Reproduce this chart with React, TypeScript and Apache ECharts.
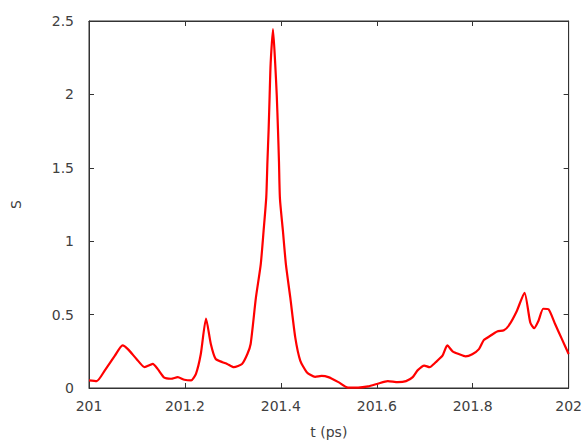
import React, { useEffect, useRef } from "react";
import * as echarts from "echarts";

const tValues: number[] = [
  201.0, 201.016, 201.033, 201.054, 201.07, 201.081, 201.099, 201.116, 201.133, 201.143,
  201.157, 201.171, 201.185, 201.199, 201.213, 201.223, 201.233, 201.244, 201.254, 201.264,
  201.278, 201.288, 201.302, 201.319, 201.33, 201.337, 201.348, 201.358, 201.364, 201.3696,
  201.372, 201.3745, 201.3766, 201.3787, 201.3836, 201.3882, 201.3915, 201.394, 201.3961, 201.3981,
  201.4043, 201.4106, 201.4197, 201.43, 201.4404, 201.454, 201.4714, 201.485, 201.499, 201.52,
  201.54, 201.561, 201.582, 201.602, 201.623, 201.644, 201.661, 201.675, 201.685, 201.699,
  201.71, 201.723, 201.737, 201.747, 201.758, 201.772, 201.785, 201.799, 201.813, 201.823,
  201.837, 201.851, 201.865, 201.875, 201.892, 201.908, 201.92, 201.928, 201.937, 201.947,
  201.958, 201.972, 201.986, 202.0,
];

const sValues: number[] = [
  0.052, 0.047, 0.12, 0.22, 0.29, 0.265, 0.198, 0.142, 0.164, 0.13,
  0.07, 0.063, 0.074, 0.056, 0.052, 0.097, 0.23, 0.473, 0.3, 0.198,
  0.176, 0.164, 0.142, 0.164, 0.23, 0.3, 0.615, 0.84, 1.07, 1.3,
  1.54, 1.76, 1.99, 2.21, 2.444, 2.21, 1.99, 1.76, 1.54, 1.29,
  1.07, 0.84, 0.615, 0.345, 0.187, 0.108, 0.076, 0.082, 0.074, 0.04,
  0.003, 0.003, 0.011, 0.029, 0.047, 0.04, 0.047, 0.074, 0.12, 0.153,
  0.142, 0.176, 0.22, 0.29, 0.25, 0.23, 0.216, 0.23, 0.265, 0.326,
  0.356, 0.385, 0.394, 0.424, 0.525, 0.649, 0.446, 0.407, 0.457, 0.54,
  0.536, 0.434, 0.333, 0.232,
];

const xLabel = "t (ps)";
const yLabel = "S";

export default function App() {
  const ref = useRef<HTMLDivElement>(null);
  useEffect(() => {
    if (!ref.current) return;
    const chart = echarts.init(ref.current, null, { renderer: "svg" });
    const font = "DejaVu Sans";
    const axisLineColor = "#333333";
    const labelColor = "#404040";
    const data = tValues.map((t, i) => [t, sValues[i]]);
    const tickStyle = { show: true, inside: true, length: 5, lineStyle: { color: axisLineColor } };
    chart.setOption({
      animation: false,
      grid: {
        left: 89,
        right: 13,
        top: 21,
        bottom: 53,
        show: true,
        borderColor: axisLineColor,
        borderWidth: 1,
        backgroundColor: "transparent",
      },
      xAxis: [
        {
          type: "value",
          min: 201,
          max: 202,
          interval: 0.2,
          name: xLabel,
          nameLocation: "middle",
          nameGap: 37,
          nameTextStyle: { fontFamily: font, fontSize: 14, color: labelColor },
          axisLine: { show: true, onZero: false, lineStyle: { color: axisLineColor, width: 1 } },
          axisTick: tickStyle,
          axisLabel: {
            fontFamily: font,
            fontSize: 14,
            color: labelColor,
            margin: 11,
            formatter: (v: number) => String(Math.round(v * 10) / 10),
          },
          splitLine: { show: false },
        },
        {
          type: "value",
          position: "top",
          min: 201,
          max: 202,
          interval: 0.2,
          axisLine: { show: true, onZero: false, lineStyle: { color: axisLineColor, width: 1 } },
          axisTick: tickStyle,
          axisLabel: { show: false },
          splitLine: { show: false },
        },
      ],
      yAxis: [
        {
          type: "value",
          min: 0,
          max: 2.5,
          interval: 0.5,
          name: yLabel,
          nameLocation: "middle",
          nameGap: 66,
          nameTextStyle: { fontFamily: font, fontSize: 14, color: labelColor },
          axisLine: { show: true, onZero: false, lineStyle: { color: axisLineColor, width: 1 } },
          axisTick: tickStyle,
          axisLabel: { fontFamily: font, fontSize: 14, color: labelColor, margin: 15 },
          splitLine: { show: false },
        },
        {
          type: "value",
          position: "right",
          min: 0,
          max: 2.5,
          interval: 0.5,
          axisLine: { show: true, onZero: false, lineStyle: { color: axisLineColor, width: 1 } },
          axisTick: tickStyle,
          axisLabel: { show: false },
          splitLine: { show: false },
        },
      ],
      series: [
        {
          type: "line",
          data,
          xAxisIndex: 0,
          yAxisIndex: 0,
          showSymbol: false,
          smooth: 0.2,
          lineStyle: { color: "#ff0000", width: 2.2 },
        },
      ],
    });
    return () => chart.dispose();
  }, []);
  return <div ref={ref} style={{ width: 585, height: 444, position: "absolute", left: 0, top: 0 }} />;
}
